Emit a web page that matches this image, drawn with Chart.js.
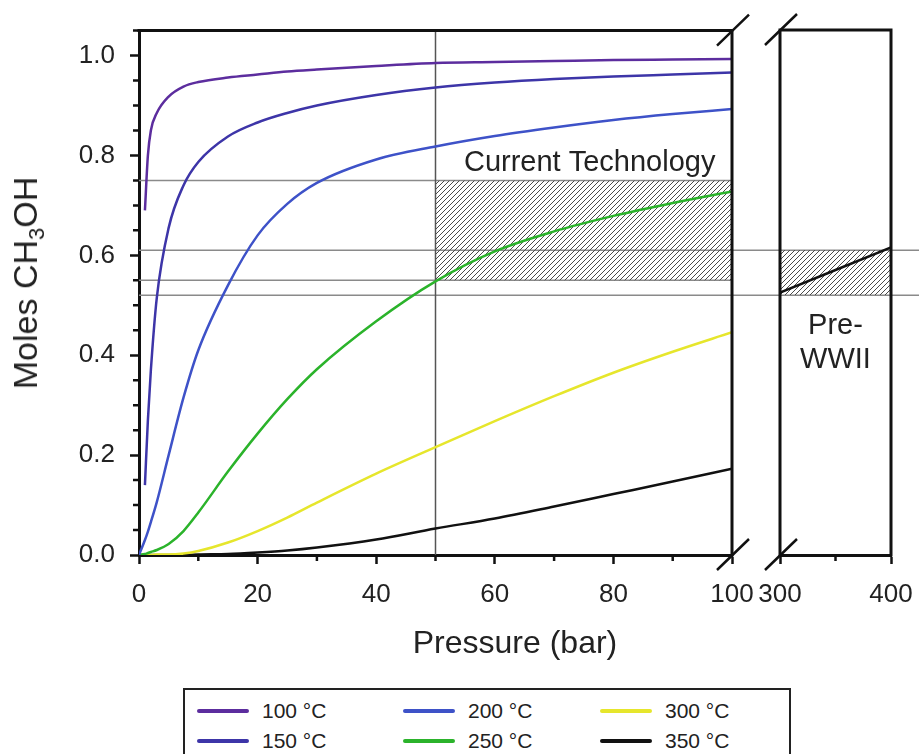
<!DOCTYPE html>
<html>
<head>
<meta charset="utf-8">
<title>Methanol yield vs pressure</title>
<script src="https://cdn.jsdelivr.net/npm/chart.js@4.4.1/dist/chart.umd.min.js"></script>
<style>
  html, body { margin: 0; padding: 0; background: #fff; }
  body {
    width: 919px; height: 754px; position: relative; overflow: hidden;
    font-family: "Liberation Sans", Arial, sans-serif; color: #222;
  }
  canvas { position: absolute; left: 0; top: 0; }
  #yTitle {
    position: absolute; left: 25px; top: 283px; font-size: 34px; line-height: 34px;
    white-space: nowrap; transform: translate(-50%, -50%) rotate(-90deg);
  }
  #yTitle sub { font-size: 22px; line-height: 0; vertical-align: -7px; }
  #xTitle {
    position: absolute; left: 515px; top: 626px; font-size: 32px; line-height: 32px;
    white-space: nowrap; transform: translateX(-50%);
  }
  #legend {
    position: absolute; left: 183px; top: 688px; width: 608px; height: 80px;
    border: 2px solid #222; box-sizing: border-box;
  }
  .item { position: absolute; height: 24px; font-size: 21px; line-height: 24px; white-space: nowrap; }
  .swatch { position: absolute; left: 0; top: 10px; width: 52px; height: 4px; border-radius: 2px; }
</style>
</head>
<body>
<canvas id="main" width="919" height="680"></canvas>
<canvas id="side" width="919" height="680"></canvas>
<div id="yTitle">Moles CH<sub>3</sub>OH</div>
<div id="xTitle">Pressure (bar)</div>
<div id="legend"></div>

<script>
// pressure grid (bar) shared by all isotherms
const pressure = [0, 1, 1.5, 2, 3, 5, 7.5, 10, 15, 20, 25, 30, 40, 50, 60, 70, 80, 90, 100];

const moles100 = [null, 0.69, 0.80, 0.85, 0.885, 0.918, 0.938, 0.947, 0.956, 0.962, 0.968, 0.972, 0.979, 0.985, 0.987, 0.989, 0.991, 0.992, 0.993];
const moles150 = [null, 0.14, 0.27, 0.37, 0.515, 0.655, 0.74, 0.787, 0.838, 0.866, 0.885, 0.90, 0.921, 0.936, 0.946, 0.953, 0.958, 0.962, 0.966];
const moles200 = [0, 0.03, 0.047, 0.066, 0.106, 0.20, 0.315, 0.41, 0.54, 0.64, 0.703, 0.745, 0.792, 0.818, 0.839, 0.856, 0.871, 0.883, 0.893];
const moles250 = [0, 0.002, 0.004, 0.006, 0.01, 0.022, 0.048, 0.085, 0.167, 0.243, 0.312, 0.372, 0.468, 0.548, 0.608, 0.648, 0.679, 0.705, 0.728];
const moles300 = [0, 0, 0, 0, 0.001, 0.001, 0.003, 0.008, 0.025, 0.048, 0.075, 0.105, 0.163, 0.216, 0.268, 0.318, 0.365, 0.407, 0.446];
const moles350 = [0, 0, 0, 0, 0, 0, 0, 0.001, 0.002, 0.005, 0.009, 0.015, 0.031, 0.053, 0.073, 0.097, 0.122, 0.147, 0.173];

// high pressure panel, 350 °C only
const highPressure = [300, 350, 400];
const moles350High = [0.525, 0.57, 0.615];

const seriesLabels = ["100 °C", "150 °C", "200 °C", "250 °C", "300 °C", "350 °C"];
const seriesColors = ["#5c2d9e", "#3d35a8", "#3e52c8", "#2bb32b", "#e6e62c", "#111111"];
const seriesValues = [moles100, moles150, moles200, moles250, moles300, moles350];

// operating windows
const currentTechP = [50, 100];
const currentTechMoles = [0.55, 0.75];
const preWarP = [300, 400];
const preWarMoles = [0.52, 0.61];

const yTop = 1.05;
const xTicks = [0, 20, 40, 60, 80, 100];
const xMinor = [10, 30, 50, 70, 90];
const highMinor = [350];
const yMinor = [0.05, 0.1, 0.15, 0.25, 0.3, 0.35, 0.45, 0.5, 0.55, 0.65, 0.7, 0.75, 0.85, 0.9, 0.95, 1.05];

Chart.defaults.font.family = '"Liberation Sans", Arial, sans-serif';
Chart.defaults.color = "#222";

function toPoints(xs, ys) {
  return xs.map((x, i) => ({ x, y: ys[i] })).filter((p) => p.y !== null);
}

function makeHatch(ctx) {
  const tile = document.createElement("canvas");
  tile.width = tile.height = 5;
  const g = tile.getContext("2d");
  g.strokeStyle = "#4a4a4a";
  g.lineWidth = 1;
  g.beginPath();
  g.moveTo(0, 5); g.lineTo(5, 0);
  g.moveTo(-1, 1); g.lineTo(1, -1);
  g.moveTo(4, 6); g.lineTo(6, 4);
  g.stroke();
  return ctx.createPattern(tile, "repeat");
}

function hline(ctx, x0, x1, y) {
  ctx.beginPath();
  ctx.moveTo(x0, y);
  ctx.lineTo(x1, y);
  ctx.stroke();
}

// fixed axis band height, no extra room reserved for overhanging labels
function bottomAxisFit(s) {
  s.height = 125;
  s.paddingLeft = 0;
  s.paddingRight = 0;
}

const axisStyle = {
  grid: { drawOnChartArea: false, tickLength: 9, tickWidth: 2.5, color: "#111" },
  border: { width: 3, color: "#111" },
};

// thick box edges plus the // marks of the axis break
function framePlugin(sides, breakSide) {
  return {
    id: "frame",
    afterDraw(chart) {
      const { ctx, chartArea: a } = chart;
      ctx.save();
      ctx.strokeStyle = "#111";
      ctx.lineWidth = 3;
      ctx.lineCap = "square";
      ctx.beginPath();
      if (sides.includes("top")) { ctx.moveTo(a.left, a.top); ctx.lineTo(a.right, a.top); }
      if (sides.includes("right")) { ctx.moveTo(a.right, a.top); ctx.lineTo(a.right, a.bottom); }
      if (sides.includes("left")) { ctx.moveTo(a.left, a.top); ctx.lineTo(a.left, a.bottom); }
      ctx.stroke();
      ctx.lineWidth = 2.5;
      ctx.lineCap = "butt";
      const bx = breakSide === "right" ? a.right : a.left;
      ctx.beginPath();
      [a.top, a.bottom].forEach((by) => {
        ctx.moveTo(bx - 15, by + 15);
        ctx.lineTo(bx + 17, by - 16);
      });
      ctx.stroke();
      ctx.restore();
    },
  };
}

function minorTicksPlugin(xValues, yValues) {
  return {
    id: "minorTicks",
    afterDraw(chart) {
      const { ctx, chartArea: a, scales } = chart;
      ctx.save();
      ctx.strokeStyle = "#111";
      ctx.lineWidth = 2.5;
      ctx.beginPath();
      xValues.forEach((v) => {
        const px = scales.x.getPixelForValue(v);
        ctx.moveTo(px, a.bottom);
        ctx.lineTo(px, a.bottom + 6);
      });
      yValues.forEach((v) => {
        const py = scales.y.getPixelForValue(v);
        if (py < a.top - 1) return;
        ctx.moveTo(a.left, py);
        ctx.lineTo(a.left - 6, py);
      });
      ctx.stroke();
      ctx.restore();
    },
  };
}

const guideLines = {
  id: "guideLines",
  beforeDatasetsDraw(chart) {
    const { ctx, chartArea: a, scales: { y } } = chart;
    ctx.save();
    ctx.strokeStyle = "#8a8a8a";
    ctx.lineWidth = 1.5;
    currentTechMoles.forEach((v) => hline(ctx, a.left, a.right, y.getPixelForValue(v)));
    preWarMoles.forEach((v) => hline(ctx, a.left, chart.width, y.getPixelForValue(v)));
    ctx.restore();
  },
};

const mainNotes = {
  id: "mainNotes",
  afterDatasetsDraw(chart) {
    const { ctx, scales: { x, y } } = chart;
    ctx.save();
    ctx.font = '29px "Liberation Sans", Arial, sans-serif';
    ctx.fillStyle = "#222";
    ctx.textAlign = "center";
    ctx.fillText("Current Technology", x.getPixelForValue(76), y.getPixelForValue(currentTechMoles[1]) - 9);
    ctx.restore();
  },
};

const sideNotes = {
  id: "sideNotes",
  afterDatasetsDraw(chart) {
    const { ctx, scales: { x, y } } = chart;
    const base = y.getPixelForValue(preWarMoles[0]);
    ctx.save();
    ctx.font = '29px "Liberation Sans", Arial, sans-serif';
    ctx.fillStyle = "#222";
    ctx.textAlign = "center";
    ctx.fillText("Pre-", x.getPixelForValue(350), base + 39);
    ctx.fillText("WWII", x.getPixelForValue(350), base + 73);
    ctx.restore();
  },
};

const mainCanvas = document.getElementById("main");
const sideCanvas = document.getElementById("side");

const curveSets = seriesLabels.map((label, i) => ({
  label,
  data: toPoints(pressure, seriesValues[i]),
  borderColor: seriesColors[i],
  backgroundColor: seriesColors[i],
  borderWidth: 2.5,
}));

const mainChart = new Chart(mainCanvas, {
  type: "line",
  data: {
    datasets: [
      ...curveSets,
      {
        label: "50 bar",
        data: [{ x: currentTechP[0], y: 0 }, { x: currentTechP[0], y: yTop }],
        borderColor: "#555",
        borderWidth: 1.5,
        order: 1,
      },
      {
        label: "Current Technology",
        data: toPoints(currentTechP, [currentTechMoles[1], currentTechMoles[1]]),
        borderWidth: 0,
        borderColor: "transparent",
        backgroundColor: makeHatch(mainCanvas.getContext("2d")),
        fill: { value: currentTechMoles[0] },
        order: 2,
      },
    ],
  },
  options: {
    responsive: false,
    animation: false,
    events: [],
    layout: { padding: { left: 0, top: 30, right: 187, bottom: 0 } },
    plugins: { legend: { display: false }, tooltip: { enabled: false } },
    elements: { point: { radius: 0 }, line: { cubicInterpolationMode: "monotone" } },
    scales: {
      x: {
        type: "linear",
        min: 0,
        max: 100,
        afterFit: bottomAxisFit,
        afterBuildTicks: (s) => { s.ticks = xTicks.map((v) => ({ value: v })); },
        ticks: { padding: 15, font: { size: 26 }, color: "#222" },
        ...axisStyle,
      },
      y: {
        min: 0,
        max: yTop,
        afterFit: (s) => { s.width = 139; },
        ticks: { stepSize: 0.2, includeBounds: false, padding: 15, font: { size: 26 }, color: "#222",
          callback: (v) => v.toFixed(1) },
        ...axisStyle,
      },
    },
  },
  plugins: [guideLines, mainNotes, minorTicksPlugin(xMinor, yMinor), framePlugin(["top", "right"], "right")],
});

const sideChart = new Chart(sideCanvas, {
  type: "line",
  data: {
    datasets: [
      {
        label: "350 °C",
        data: toPoints(highPressure, moles350High),
        borderColor: seriesColors[5],
        borderWidth: 2.5,
      },
      {
        label: "Pre-WWII",
        data: toPoints(preWarP, [preWarMoles[1], preWarMoles[1]]),
        borderWidth: 0,
        borderColor: "transparent",
        backgroundColor: makeHatch(sideCanvas.getContext("2d")),
        fill: { value: preWarMoles[0] },
        order: 2,
      },
    ],
  },
  options: {
    responsive: false,
    animation: false,
    events: [],
    layout: { padding: { left: 780, top: 30, right: 28, bottom: 0 } },
    plugins: { legend: { display: false }, tooltip: { enabled: false } },
    elements: { point: { radius: 0 }, line: { cubicInterpolationMode: "monotone" } },
    scales: {
      x: {
        type: "linear",
        min: 300,
        max: 400,
        afterFit: bottomAxisFit,
        ticks: { stepSize: 100, padding: 15, font: { size: 26 }, color: "#222" },
        ...axisStyle,
      },
      y: { display: false, min: 0, max: yTop },
    },
  },
  plugins: [sideNotes, minorTicksPlugin(highMinor, []), framePlugin(["top", "left", "right"], "left")],
});

// legend box, three columns of two
const legendBox = document.getElementById("legend");
const colLeft = [12, 218, 415];
const rowTop = [9, 39];
seriesLabels.forEach((label, i) => {
  const item = document.createElement("div");
  item.className = "item";
  item.style.left = colLeft[Math.floor(i / 2)] + "px";
  item.style.top = rowTop[i % 2] + "px";
  item.innerHTML = '<span class="swatch" style="background:' + seriesColors[i] + '"></span>' +
    '<span style="margin-left:65px">' + label + "</span>";
  legendBox.appendChild(item);
});
</script>
</body>
</html>
